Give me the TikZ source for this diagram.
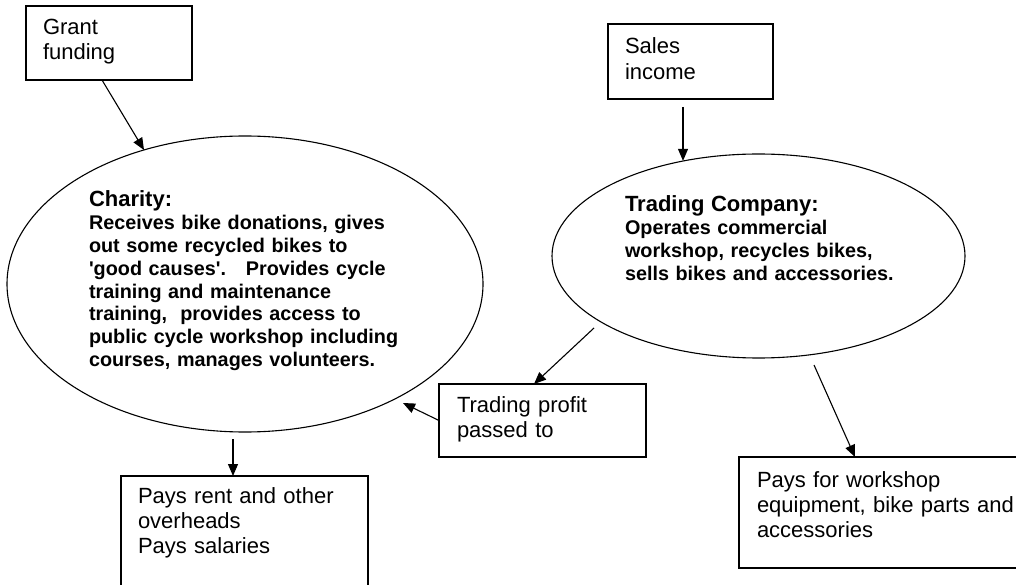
\documentclass[tikz,border=0pt]{standalone}
\usepackage{fontspec}
\setmainfont{Liberation Sans}
\usetikzlibrary{shapes.geometric,arrows.meta,calc}
\newcommand\sq{{\font\sqfont="Liberation Sans/B" at 19.8pt\sqfont\char39\relax}}
\frenchspacing
\begin{document}
\begin{tikzpicture}[x=1pt,y=1pt,
  line width=1.1pt,
  box/.style={draw, inner ysep=0pt, outer sep=0pt, anchor=north west, align=left,
    font=\fontsize{22}{25.3}\selectfont},
  ell/.style={draw, ellipse, inner sep=0pt, outer sep=0pt},
  txt/.style={inner sep=0pt, outer sep=0pt, anchor=base west, align=left,
    font=\bfseries\fontsize{19.8}{22.8}\selectfont},
  arr/.style={-{Triangle[length=12pt,width=10pt]}}]
\useasboundingbox (0,0) rectangle (1016,584);
\clip (0,0) rectangle (1016,584);
% boxes
\node[box, inner xsep=17pt, text width=132pt, text height=28.5pt, text depth=45.5pt] (grant) at (26,578) {Grant\\funding};
\node[box, inner xsep=17pt, text width=131pt, text height=30pt, text depth=45pt] (sales) at (608,560) {Sales\\income};
\node[box, inner xsep=18pt, text width=171pt, text height=28pt, text depth=45pt] (profit) at (439,200) {Trading profit\\passed to};
\node[box, inner xsep=17pt, text width=213pt, text height=27pt, text depth=103pt] (rent) at (121,108) {Pays rent and other\\overheads\\Pays salaries};
\node[box, inner xsep=18pt, text width=264pt, text height=30pt, text depth=81pt] (paysfor) at (739,127) {Pays for workshop\\equipment, bike parts and\\accessories};
% ellipses
\node[ell, minimum width=476pt, minimum height=296pt] (charity) at (245,300) {};
\node[ell, minimum width=413pt, minimum height=204pt] (trading) at (758.5,328) {};
\node[txt, text width=340pt] (charitytext) at (89,377) {{\fontsize{22}{22.8}\selectfont Charity:}\\Receives bike donations, gives\\out some recycled bikes to\\\sq good causes\sq.\ \ \ Provides cycle\\training and maintenance\\training,\ \ provides access to\\public cycle workshop including\\courses, manages volunteers.};
\node[txt, text width=290pt] (tradingtext) at (625,372) {{\fontsize{22}{22.8}\selectfont Trading Company:}\\Operates commercial\\workshop, recycles bikes,\\sells bikes and accessories.};
% connectors
\draw[arr] ([xshift=-7pt]grant.south) -- (charity.127.5);
\coordinate (s1) at ([xshift=-7.5pt,yshift=-8pt]sales.south);
\draw[arr] (s1) -- (s1 |- trading.128);
\coordinate (c1) at ([xshift=-12pt,yshift=-7pt]charity.south);
\draw[arr] (c1) -- (c1 |- rent.north);
\draw[arr] ([xshift=-164.5pt,yshift=-72pt]trading.center) -- ([xshift=-8.5pt]profit.north);
\draw[arr] (profit.west) -- ($(charity.center)+(158,-119)$);
\draw[arr] ([xshift=55.5pt,yshift=-7pt]trading.south) -- ([xshift=116pt]paysfor.north west);
\end{tikzpicture}
\end{document}
